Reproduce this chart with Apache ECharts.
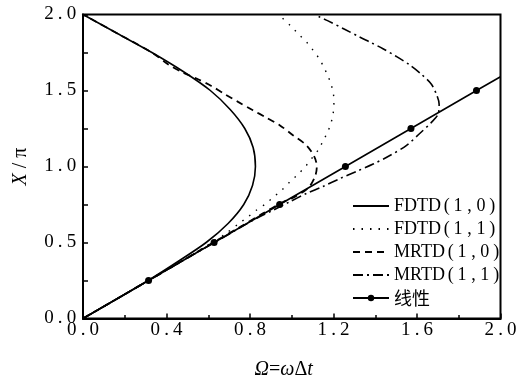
<!DOCTYPE html>
<html>
<head>
<meta charset="utf-8">
<script src="https://cdn.jsdelivr.net/npm/echarts@6/dist/echarts.min.js"></script>
<style>html,body{margin:0;padding:0;background:#fff}#c{width:529px;height:379px}</style>
</head>
<body>
<div id="c"></div>
<script>
// ---- data (Omega, X/pi) ----
var seriesNames = ['FDTD(1,0)', 'FDTD(1,1)', 'MRTD(1,0)', 'MRTD(1,1)', '线性'];
var xTickLabels = ['0.0', '0.4', '0.8', '1.2', '1.6', '2.0'];
var yTickLabels = ['0.0', '0.5', '1.0', '1.5', '2.0'];

var fdtd10 = [[0,0],[0.157,0.125],[0.312,0.25],[0.455,0.375],[0.59,0.5],[0.695,0.625],[0.77,0.75],[0.812,0.875],[0.826,1.0],
  [0.815,1.125],[0.775,1.25],[0.705,1.375],[0.61,1.5],[0.48,1.625],[0.33,1.75],[0.165,1.875],[0,2.0]];

var fdtd11 = [[0,0],[0.314,0.25],[0.47,0.375],[0.6,0.485],[0.68,0.555],[0.751,0.629],[0.79,0.668],[0.83,0.712],[0.872,0.752],
  [0.91,0.796],[0.952,0.844],[0.99,0.897],[1.03,0.949],[1.067,1.002],[1.099,1.059],[1.129,1.112],[1.149,1.166],[1.17,1.221],
  [1.185,1.274],[1.196,1.329],[1.201,1.382],[1.202,1.436],[1.198,1.491],[1.187,1.546],[1.172,1.6],[1.153,1.655],[1.131,1.711],
  [1.102,1.765],[1.07,1.82],[1.033,1.87],[0.995,1.925],[0.955,1.976],[0.935,2.0]];

var mrtd10 = [[0,0],[0.157,0.125],[0.314,0.25],[0.47,0.375],[0.63,0.505],[0.75,0.6],[0.86,0.69],[0.95,0.76],[1.02,0.805],
  [1.08,0.86],[1.112,0.935],[1.12,1.0],[1.108,1.065],[1.07,1.14],[1.006,1.206],[0.942,1.272],[0.878,1.322],[0.814,1.37],
  [0.743,1.425],[0.679,1.476],[0.615,1.53],[0.551,1.574],[0.479,1.618],[0.407,1.673],[0.33,1.75],[0.165,1.875],[0,2.0]];

var mrtd11 = [[0,0],[0.314,0.25],[0.63,0.5],[0.83,0.658],[0.91,0.712],[0.99,0.768],[1.07,0.822],[1.15,0.869],[1.23,0.92],
  [1.31,0.968],[1.39,1.016],[1.47,1.072],[1.55,1.139],[1.613,1.217],[1.669,1.29],[1.701,1.344],[1.706,1.41],[1.696,1.465],
  [1.669,1.541],[1.621,1.607],[1.565,1.668],[1.501,1.724],[1.437,1.775],[1.38,1.815],[1.325,1.852],[1.253,1.903],
  [1.174,1.958],[1.134,1.984],[1.11,2.0]];

var linearPts = [[0,0],[0.314,0.25],[0.628,0.5],[0.942,0.75],[1.257,1.0],[1.571,1.25],[1.885,1.5],[2.0,1.59]];

// ---- chart ----
var chart = echarts.init(document.getElementById('c'));
var serif = '"Liberation Serif","Times New Roman",serif';

function spaced(s) {
  return s.split('').map(function (c) { return '{d|' + c + '}'; }).join('');
}
function tickFmt(labels, step) {
  return function (v) {
    var i = Math.round(v / step);
    return spaced(labels[i] !== undefined ? labels[i] : String(v));
  };
}
var digitRich = { d: { width: 11.2, align: 'center', fontFamily: serif, fontSize: 19, color: '#000' } };

function lineSeries(name, data, dash, width) {
  return {
    name: name, type: 'line', data: data, smooth: 0.3, showSymbol: false, symbol: 'none',
    lineStyle: { color: '#000', width: width, type: dash, cap: 'butt' },
    itemStyle: { color: '#000' }, animation: false, z: 3
  };
}

var linearData = linearPts.map(function (p, i) {
  var o = { value: p };
  if (i === 0 || i === linearPts.length - 1) o.symbol = 'none';
  return o;
});

var hidden = { color: 'rgba(0,0,0,0)', borderColor: 'rgba(0,0,0,0)', borderWidth: 0 };
var legendData = seriesNames.map(function (n, i) {
  return i < 4 ? { name: n, itemStyle: hidden } : { name: n };
});

chart.setOption({
  animation: false,
  backgroundColor: '#fff',
  grid: { left: 83, right: 28.5, top: 14.5, bottom: 60.5, outerBoundsMode: 'none', containLabel: false,
    show: true, borderColor: '#000', borderWidth: 2, backgroundColor: 'transparent' },
  legend: {
    orient: 'vertical', left: 347, top: 192, itemWidth: 36, itemHeight: 8, itemGap: 5,
    data: legendData,
    formatter: function (n) {
      if (n === '线性') return '{z|' + n + '}';
      var m = n.match(/^([A-Z]+)(.*)$/);
      return '{n|' + m[1] + '}' + m[2].split('').map(function (c) { return '{c|' + c + '}'; }).join('');
    },
    textStyle: {
      color: '#000', fontSize: 18, fontFamily: serif,
      rich: {
        n: { fontFamily: serif, fontSize: 18, color: '#000' },
        c: { fontFamily: serif, fontSize: 18, color: '#000', width: 11.4, align: 'center' },
        z: { fontFamily: '"Noto Sans CJK SC",sans-serif', fontSize: 18, color: '#000' }
      }
    }
  },
  xAxis: {
    type: 'value', min: 0, max: 2, interval: 0.4,
    name: '{i|Ω}{n|=}{i|ω}{n|Δ}{i|t}', nameLocation: 'middle', nameGap: 41,
    nameTextStyle: { padding: [0, 16, 0, 0], rich: {
      i: { fontFamily: serif, fontStyle: 'italic', fontSize: 20, color: '#000' },
      n: { fontFamily: serif, fontSize: 20, color: '#000' } } },
    axisLine: { show: true, onZero: false, lineStyle: { color: '#000', width: 2 } },
    axisTick: { show: true, inside: true, length: 5, lineStyle: { color: '#000', width: 1.5 } },
    minorTick: { show: true, splitNumber: 2, length: 3.5, lineStyle: { color: '#000', width: 1.5 } },
    splitLine: { show: false },
    axisLabel: { margin: 2, fontSize: 19, fontFamily: serif, formatter: tickFmt(xTickLabels, 0.4), rich: digitRich, color: '#000' }
  },
  yAxis: {
    type: 'value', min: 0, max: 2, interval: 0.5,
    name: '{i|X}{n| / π}', nameLocation: 'middle', nameGap: 52, nameRotate: 90,
    nameTextStyle: { rich: {
      i: { fontFamily: serif, fontStyle: 'italic', fontSize: 20, color: '#000' },
      n: { fontFamily: serif, fontSize: 20, color: '#000' } } },
    axisLine: { show: true, onZero: false, lineStyle: { color: '#000', width: 2 } },
    axisTick: { show: true, inside: true, length: 5, lineStyle: { color: '#000', width: 1.5 } },
    minorTick: { show: true, splitNumber: 2, length: 5, lineStyle: { color: '#000', width: 1.5 } },
    splitLine: { show: false },
    axisLabel: { margin: 6, fontSize: 19, fontFamily: serif, formatter: tickFmt(yTickLabels, 0.5), rich: digitRich, color: '#000' }
  },
  series: [
    lineSeries(seriesNames[0], fdtd10, 'solid', 1.6),
    lineSeries(seriesNames[1], fdtd11, [1.5, 7], 1.4),
    lineSeries(seriesNames[2], mrtd10, [7, 5], 1.8),
    lineSeries(seriesNames[3], mrtd11, [10, 4, 2, 4], 1.6),
    {
      name: seriesNames[4], type: 'line', data: linearData, symbol: 'circle', symbolSize: 7, showSymbol: true,
      lineStyle: { color: '#000', width: 1.6 }, itemStyle: { color: '#000' }, animation: false, z: 4
    }
  ]
});
</script>
</body>
</html>
